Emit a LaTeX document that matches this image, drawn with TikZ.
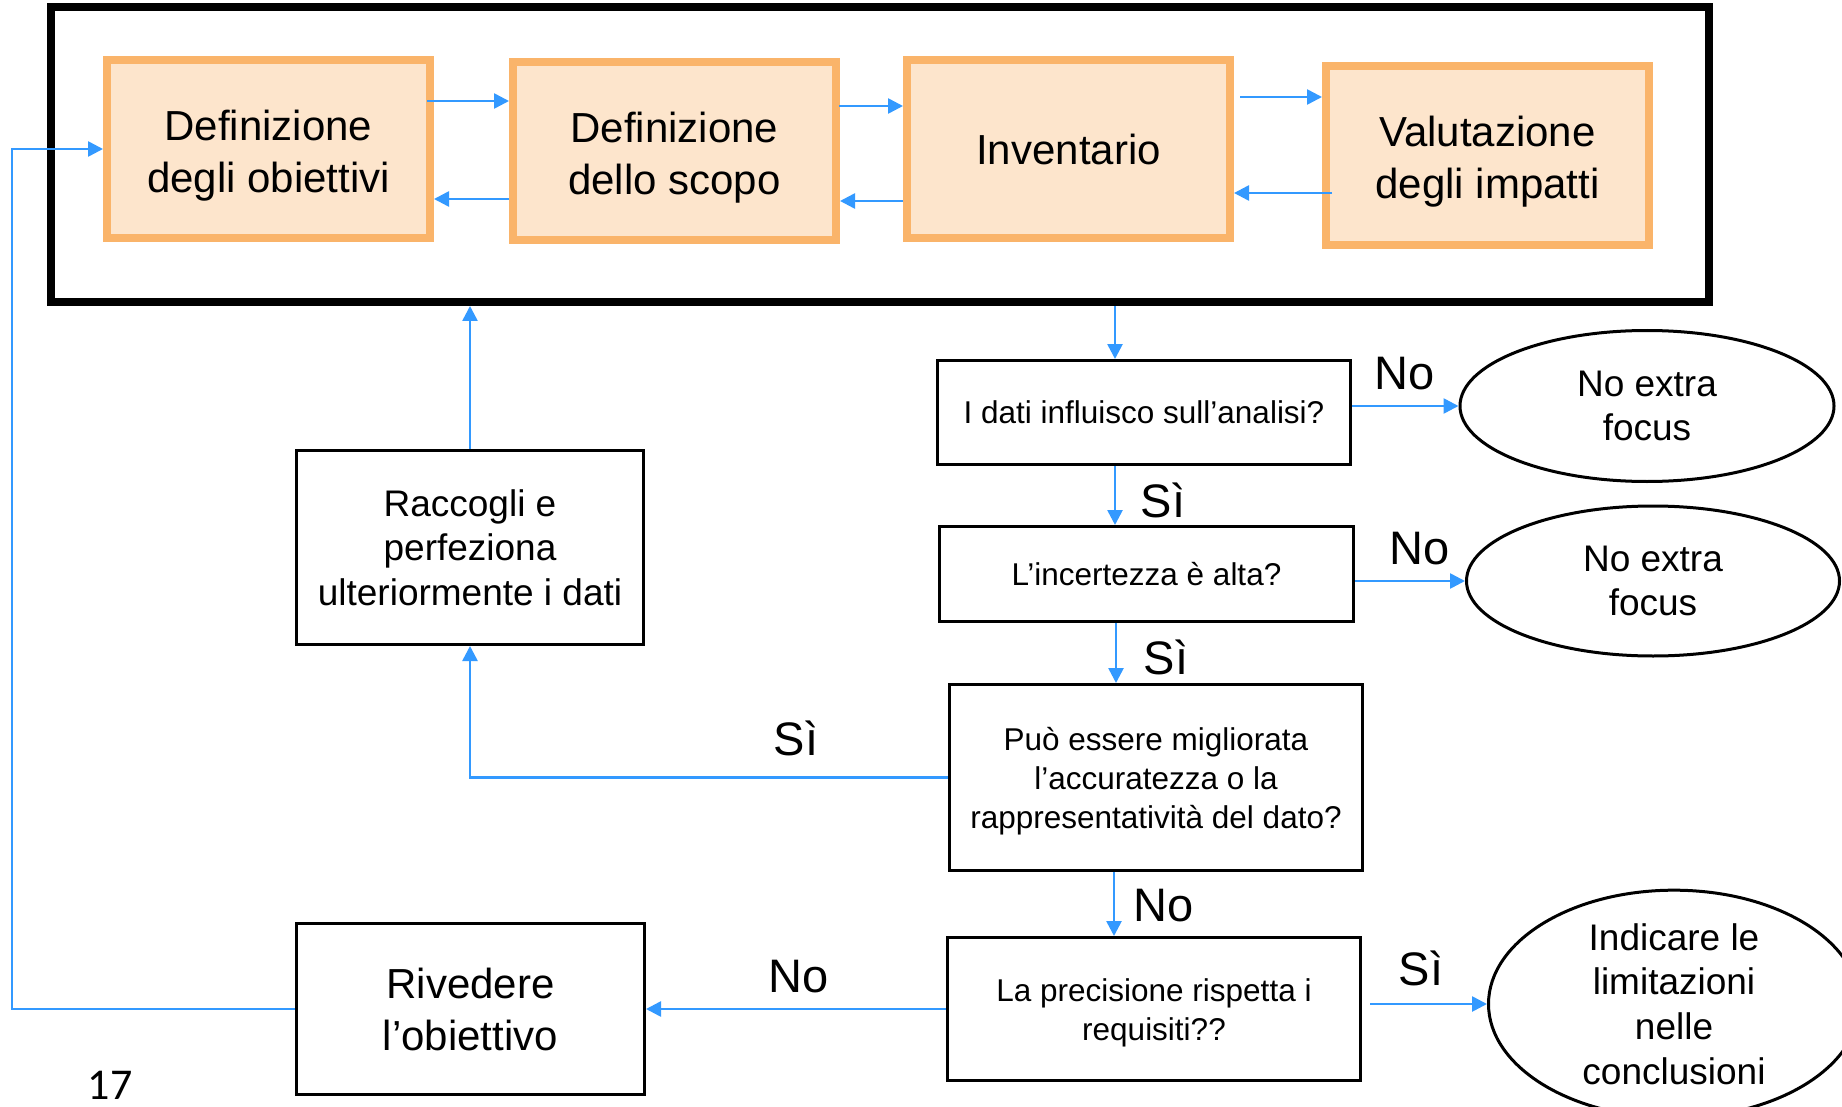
\documentclass[tikz,border=0pt]{standalone}
\usepackage{fontspec}
\setmainfont{Liberation Sans}
\newfontfamily\calibri{Carlito}
\usetikzlibrary{arrows.meta,shapes.geometric}
\definecolor{orbord}{RGB}{250,180,106}
\definecolor{orfill}{RGB}{253,229,204}
\definecolor{arrblue}{RGB}{51,153,255}
\newcommand{\lowerstrut}[1]{\rule{0pt}{#1}}
\begin{document}
\begin{tikzpicture}[x=1pt,y=-1pt,
  stage/.style={draw=orbord, fill=orfill, line width=8pt, minimum width=323pt, minimum height=178pt, inner sep=0pt, align=center, font=\fontsize{42}{52}\selectfont},
  qbox/.style={draw=black, line width=3pt, inner sep=0pt, align=center, font=\fontsize{31.5}{39}\selectfont},
  endell/.style={ellipse, draw=black, line width=3pt, inner sep=0pt, align=center, font=\fontsize{37}{44.6}\selectfont},
  abox/.style={draw=black, line width=3pt, inner sep=0pt, align=center},
  arr/.style={draw=arrblue, line width=2.6pt, -{Triangle[length=15pt,width=15pt]}},
  lbl/.style={font=\fontsize{47}{56}\selectfont, inner sep=0pt}]
\useasboundingbox (0,0) rectangle (1842,1107);
\clip (0,0) rectangle (1842,1107);
\fill[white] (0,0) rectangle (1842,1107);

% frame
\node[draw=black, line width=8pt, minimum width=1658pt, minimum height=295pt, inner sep=0pt] (frame) at (880,154.5) {};

% stages
\node[stage] (b1) at (268.5,149) {\lowerstrut{43pt}Definizione\\degli obiettivi};
\node[stage] (b2) at (674.5,151) {\lowerstrut{43pt}Definizione\\dello scopo};
\node[stage] (b3) at (1068.5,149) {Inventario};
\node[stage, minimum height=179pt] (b4) at (1487.5,155.5) {\lowerstrut{43pt}Valutazione\\degli impatti};

\draw[arr, shorten <=-7pt] (b1.east |- 0,101) -- (b2.west |- 0,101);
\draw[arr] (b2.west |- 0,199) -- (b1.east |- 0,199);
\draw[arr, shorten <=-1pt] (b2.east |- 0,106) -- (b3.west |- 0,106);
\draw[arr] (b3.west |- 0,201) -- (b2.east |- 0,201);
\draw[arr, shorten <=6pt] (b3.east |- 0,97) -- (b4.west |- 0,97);
\draw[arr, shorten <=-10pt] (b4.west |- 0,193) -- (b3.east |- 0,193);

% decision boxes
\node[qbox, minimum width=413pt, minimum height=104pt] (q1) at (1144,412.5) {I dati influisco sull’analisi?};
\node[qbox, minimum width=414pt, minimum height=95pt] (q2) at (1146.5,574) {L’incertezza è alta?};
\node[qbox, minimum width=413pt, minimum height=186pt] (q3) at (1156,777.5) {\lowerstrut{31pt}Può essere migliorata\\l’accuratezza o la\\rappresentatività del dato?};
\node[qbox, minimum width=413pt, minimum height=143pt] (q4) at (1154,1009) {\lowerstrut{31pt}La precisione rispetta i\\requisiti??};

% end ellipses
\node[endell, minimum width=374pt, minimum height=151pt] (e1) at (1647,406) {No extra\\focus};
\node[endell, minimum width=373pt, minimum height=150pt] (e2) at (1653,581) {No extra\\focus};
\node[endell, minimum width=371pt, minimum height=219pt] (e3) at (1674,1004) {Indicare le\\limitazioni\\nelle\\conclusioni};

% action boxes
\node[abox, minimum width=347pt, minimum height=194pt, font=\fontsize{37}{44.6}\selectfont] (racc) at (470,547.5) {Raccogli e\\perfeziona\\ulteriormente i dati};
\node[abox, minimum width=348pt, minimum height=171pt, font=\fontsize{42}{52}\selectfont] (riv) at (470.5,1009) {Rivedere\\l’obiettivo};

% connectors
\draw[arr] (frame.south -| 1115,0) -- (q1.north -| 1115,0);
\draw[arr] (q1.east |- e1.west) -- (e1.west);
\node[lbl] at (1405,374) {No};
\draw[arr] (q1.south -| 1115,0) -- (q2.north -| 1115,0);
\node[lbl] at (1163,500) {Sì};
\draw[arr] (q2.east |- e2.west) -- (e2.west);
\node[lbl] at (1420,549) {No};
\draw[arr] (q2.south -| 1116,0) -- (q3.north -| 1116,0);
\node[lbl] at (1166,657) {Sì};
\draw[arr] (q3.west) -| (racc.south);
\node[lbl] at (796,738) {Sì};
\draw[arr] (racc.north) -- (frame.south -| racc.north);
\draw[arr] (q3.south -| 1114,0) -- (q4.north -| 1114,0);
\node[lbl] at (1164,906) {No};
\draw[arr] (q4.west) -- (riv.east);
\node[lbl] at (799,977) {No};
\draw[arr, shorten <=8pt] (q4.east |- e3.west) -- (e3.west);
\node[lbl] at (1421,968) {Sì};
\coordinate (fbc) at (12,600);
\draw[arr] (riv.west) -| (fbc) |- (b1.west);

\node[font=\calibri\fontsize{44}{50}\selectfont, inner sep=0pt] (pg) at (110,1085) {17};
\end{tikzpicture}
\end{document}
